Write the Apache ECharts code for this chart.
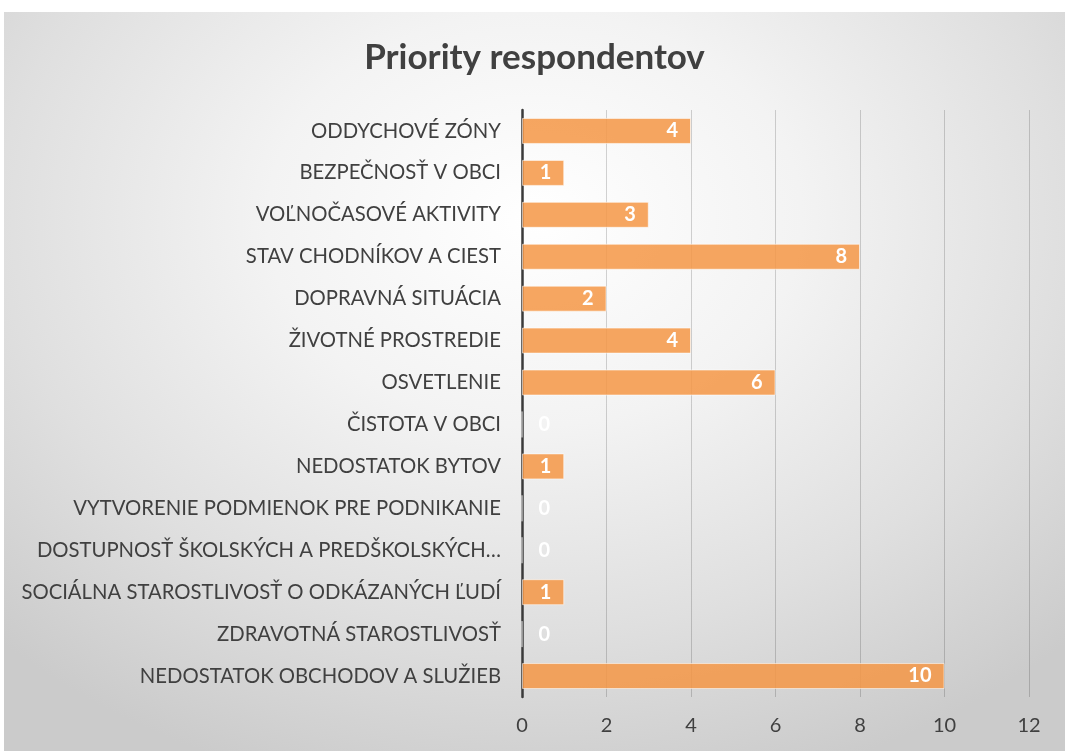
<!DOCTYPE html>
<html>
<head>
<meta charset="utf-8">
<script src="https://cdn.jsdelivr.net/npm/echarts@6/dist/echarts.min.js"></script>
<style>
html,body{margin:0;padding:0;background:#fff;width:1065px;height:751px;overflow:hidden;}
#chart{position:absolute;left:4px;top:12px;width:1061px;height:739px;
background:radial-gradient(ellipse 72% 80% at 50% 28%, #ffffff 0%, #f3f3f3 35%, #dfdfdf 70%, #cbcbcb 100%);}
</style>
</head>
<body>
<div id="chart"></div>
<script>
// categories listed bottom -> top (as ECharts draws them)
const categories = [
  'NEDOSTATOK OBCHODOV A SLUŽIEB',
  'ZDRAVOTNÁ STAROSTLIVOSŤ',
  'SOCIÁLNA STAROSTLIVOSŤ O ODKÁZANÝCH ĽUDÍ',
  'DOSTUPNOSŤ ŠKOLSKÝCH A PREDŠKOLSKÝCH…',
  'VYTVORENIE PODMIENOK PRE PODNIKANIE',
  'NEDOSTATOK BYTOV',
  'ČISTOTA V OBCI',
  'OSVETLENIE',
  'ŽIVOTNÉ PROSTREDIE',
  'DOPRAVNÁ SITUÁCIA',
  'STAV CHODNÍKOV A CIEST',
  'VOĽNOČASOVÉ AKTIVITY',
  'BEZPEČNOSŤ V OBCI',
  'ODDYCHOVÉ ZÓNY'
];
const values = [10, 0, 1, 0, 0, 1, 0, 6, 4, 2, 8, 3, 1, 4];
const titleText = 'Priority respondentov';

const FONT = 'Lato';
const chart = echarts.init(document.getElementById('chart'), null, {renderer:'canvas'});
chart.setOption({
  backgroundColor: 'transparent',
  animation: false,
  title: {
    text: titleText,
    left: 'center',
    top: 23,
    padding: [5, 5, 5, 13],
    textStyle: {fontFamily: FONT, fontSize: 35, fontWeight: 'bold', color: '#404040'}
  },
  grid: {left: 518, right: 36, top: 98, bottom: 54, containLabel: false},
  xAxis: {
    type: 'value', min: 0, max: 12, interval: 2,
    axisLine: {show: false},
    axisTick: {show: false},
    axisLabel: {fontFamily: FONT, fontSize: 20, color: '#404040', margin: 19},
    splitLine: {show: true, lineStyle: {color: 'rgba(0,0,0,0.17)', width: 1}}
  },
  yAxis: {
    type: 'category', data: categories,
    axisLine: {show: true, lineStyle: {color: '#3a3a3a', width: 2.5}},
    axisTick: {show: false},
    axisLabel: {fontFamily: FONT, fontSize: 20.3, color: '#404040', margin: 21}
  },
  series: [{
    type: 'bar',
    barCategoryGap: '38%',
    data: values.map(v => ({
      value: v,
      label: v === 0 ? {position: 'insideLeft', distance: 17} : {position: 'insideRight', distance: 13}
    })),
    itemStyle: {color: 'rgba(244,150,69,0.85)', borderColor: 'rgba(255,255,255,0.55)', borderWidth: 1},
    label: {show: true, color: '#ffffff', fontFamily: FONT, fontWeight: 'bold', fontSize: 20}
  }]
});
</script>
</body>
</html>
